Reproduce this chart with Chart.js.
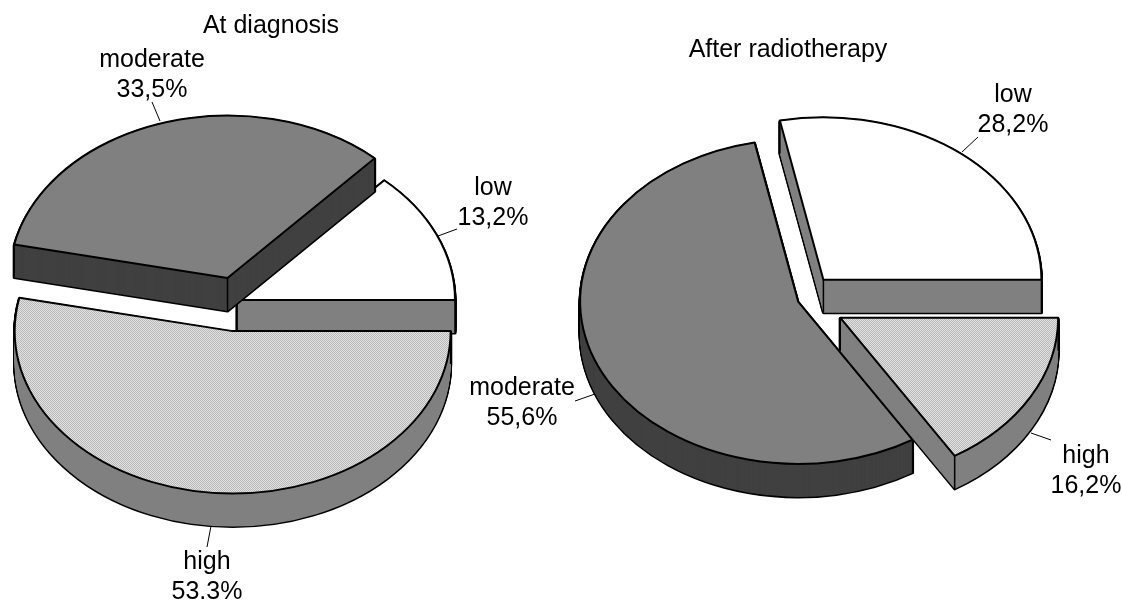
<!DOCTYPE html>
<html><head><meta charset="utf-8">
<style>html,body{margin:0;background:#fff;width:1122px;height:600px;overflow:hidden}
.w{position:absolute;left:0;top:0;width:1122px;height:600px}</style>
<script src="https://cdn.jsdelivr.net/npm/chart.js@4"></script></head>
<body>
<div class="w"><canvas id="a"></canvas></div>
<div class="w"><canvas id="b"></canvas></div>
<script>
const categories = ['high','moderate','low'];
const diagnosisValues = [53.3,33.5,13.2];
const diagnosisLabels = ['53.3%','33,5%','13,2%'];
const radiotherapyCategories = ['high','moderate','low'];
const radiotherapyValues = [16.2,55.6,28.2];
const radiotherapyLabels = ['16,2%','55,6%','28,2%'];

const K=0.745, DEPTH=33, FONT='25px "Liberation Sans", Arial, sans-serif';
function dots(){
  const c=document.createElement('canvas');c.width=c.height=2;
  const x=c.getContext('2d');x.fillStyle='#e2e2e2';x.fillRect(0,0,2,2);
  x.fillStyle='#b8b8b8';x.fillRect(0,0,1,1);x.fillRect(1,1,1,1);
  return x.canvas;
}
function path(ctx,a,off,dy){
  const mid=(a.startAngle+a.endAngle)/2;
  const cx=a.x+Math.cos(mid)*off, cy=a.y+Math.sin(mid)*off*K+dy;
  ctx.beginPath();ctx.moveTo(cx,cy);
  ctx.ellipse(cx,cy,a.outerRadius,a.outerRadius*K,0,a.startAngle,a.endAngle);
  ctx.closePath();
  return {cx,cy};
}
const pie3d={id:'pie3d',
  beforeDatasetsDraw(chart,args,o){
    const ctx=chart.ctx, meta=chart.getDatasetMeta(0), ds=chart.data.datasets[0];
    ctx.save();ctx.lineJoin='round';ctx.translate(0,o.shiftY);
    o.order.forEach(i=>{
      const el=meta.data[i], a=el.getProps(['x','y','startAngle','endAngle','outerRadius'],true), off=el.options.offset;
      ctx.strokeStyle='#000';ctx.lineWidth=3;
      for(let d=DEPTH;d>=1;d--){path(ctx,a,off,d);ctx.stroke();}
      ctx.fillStyle=ds.sideColor[i];
      for(let d=DEPTH;d>=1;d--){path(ctx,a,off,d);ctx.fill();}
      const p=path(ctx,a,off,0);
      ctx.lineWidth=1.5;ctx.beginPath();
      [[p.cx,p.cy],
       [p.cx+a.outerRadius*Math.cos(a.startAngle),p.cy+a.outerRadius*K*Math.sin(a.startAngle)],
       [p.cx+a.outerRadius*Math.cos(a.endAngle),p.cy+a.outerRadius*K*Math.sin(a.endAngle)]
      ].forEach(q=>{ctx.moveTo(q[0],q[1]);ctx.lineTo(q[0],q[1]+DEPTH);});
      ctx.stroke();
      path(ctx,a,off,0);
      ctx.fillStyle=el.options.backgroundColor;ctx.fill();
      ctx.lineWidth=2;ctx.stroke();
    });
    ctx.restore();
    return false;
  },
  afterDraw(chart,args,o){
    const ctx=chart.ctx;
    ctx.save();ctx.font=FONT;ctx.fillStyle='#000';ctx.textAlign='center';ctx.textBaseline='alphabetic';
    ctx.fillText(o.title[0],o.title[1],o.title[2]);
    const ds=chart.data.datasets[0];
    o.labels.forEach((l,i)=>{
      ctx.fillText(chart.data.labels[i],l[0],l[1]);
      ctx.fillText(ds.valueLabels[i],l[0],l[1]+30);
      ctx.strokeStyle='#000';ctx.lineWidth=1;ctx.beginPath();ctx.moveTo(l[2],l[3]);ctx.lineTo(l[4],l[5]);ctx.stroke();
    });
    ctx.restore();
  }
};
function build(id,labels,values,valueLabels,offsets,title,lab,order,shiftY,padding){
  const ctx=document.getElementById(id).getContext('2d');
  const pat=ctx.createPattern(dots(),'repeat');
  const bg=labels.map(l=>l==='high'?pat:l==='moderate'?'#808080':'#ffffff');
  return new Chart(ctx,{type:'pie',plugins:[pie3d],
    data:{labels,datasets:[{data:values,valueLabels,backgroundColor:bg,offset:offsets,clip:false,
      sideColor:labels.map(l=>l==='moderate'?'#404040':'#808080'),borderWidth:0}]},
    options:{responsive:true,maintainAspectRatio:false,animation:false,rotation:90,radius:218,
      layout:{padding},
      plugins:{legend:{display:false},tooltip:{enabled:false},title:{display:false},
        pie3d:{title,labels:lab,order,shiftY}}}});
}
build('a',categories,diagnosisValues,diagnosisLabels,[42,31,0],['At diagnosis',271,33],
  [[207,569,211,526,207,547],[152,67,152,102,160,121],[493,195,457,229,438,236]],[2,1,0],0,{right:648});
build('b',radiotherapyCategories,radiotherapyValues,radiotherapyLabels,[46,2,37],['After radiotherapy',788,57],
  [[1086,463,1051,440,1031,433],[522,395,575,401,595,394],[1013,102,978,137,962,152]],[2,1,0],1,{left:478});
</script></body></html>
